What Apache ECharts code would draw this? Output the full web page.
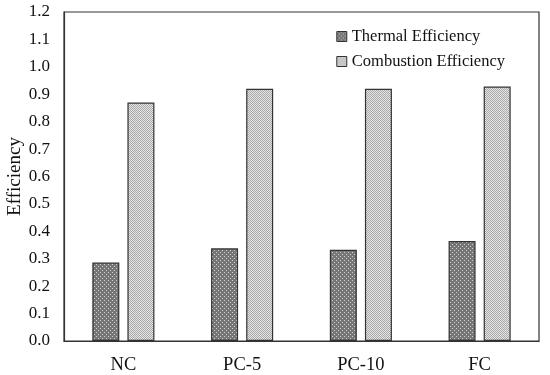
<!DOCTYPE html>
<html><head><meta charset="utf-8">
<script src="https://cdn.jsdelivr.net/npm/echarts@6/dist/echarts.min.js"></script>
<style>html,body{margin:0;padding:0;background:#fff}#c{width:550px;height:375px}</style>
</head><body><div id="c"></div>
<script>
const categories = ['NC', 'PC-5', 'PC-10', 'FC'];
const thermal = [0.286, 0.338, 0.333, 0.365];
const combustion = [0.87, 0.92, 0.92, 0.928];
const yTicks = ['0.0','0.1','0.2','0.3','0.4','0.5','0.6','0.7','0.8','0.9','1.0','1.1','1.2'];

function pattern(bg, fg, dark) {
  const c = document.createElement('canvas');
  c.width = 4; c.height = 4;
  const ctx = c.getContext('2d');
  ctx.fillStyle = bg; ctx.fillRect(0,0,4,4);
  ctx.fillStyle = fg;
  if (dark) {
    ctx.fillRect(0,0,1,1); ctx.fillRect(2,2,1,1);
  } else {
    ctx.fillRect(0,0,1,1); ctx.fillRect(2,0,1,1); ctx.fillRect(1,1,1,1); ctx.fillRect(3,1,1,1);
    ctx.fillRect(0,2,1,1); ctx.fillRect(2,2,1,1); ctx.fillRect(1,3,1,1); ctx.fillRect(3,3,1,1);
  }
  return c;
}
const pThermal = pattern('#767676', '#d0d0d0', true);
const pComb = pattern('#e6e6e6', '#a8a8a8', false);

const chart = echarts.init(document.getElementById('c'));
const font = 'Liberation Serif';
chart.setOption({
  animation: false,
  textStyle: { fontFamily: font },
  grid: { left: 64, right: 11, top: 12, bottom: 34, show: true, borderColor: '#333', borderWidth: 1.2,
    containLabel: false, outerBoundsMode: 'none' },
  legend: {
    right: 40, top: 23, orient: 'vertical', itemGap: 8,
    itemWidth: 10, itemHeight: 10,
    textStyle: { fontFamily: font, fontSize: 16.5, color: '#111' },
    data: [
      { name: 'Thermal Efficiency', icon: 'rect', itemStyle: { color: { image: pThermal, repeat: 'repeat' }, borderColor: '#333', borderWidth: 1 } },
      { name: 'Combustion Efficiency', icon: 'rect', itemStyle: { color: { image: pComb, repeat: 'repeat' }, borderColor: '#333', borderWidth: 1 } }
    ]
  },
  xAxis: {
    type: 'category', data: categories,
    axisLine: { show: true, lineStyle: { color: '#333', width: 1.2 } },
    axisTick: { show: false },
    axisLabel: { fontFamily: font, fontSize: 18.5, color: '#111', margin: 15 }
  },
  yAxis: {
    type: 'value', min: 0, max: 1.2, interval: 0.1,
    name: 'Efficiency', nameLocation: 'middle', nameGap: 39, nameMoveOverlap: false,
    nameTextStyle: { fontFamily: font, fontSize: 19, color: '#111' },
    axisLine: { show: true, lineStyle: { color: '#333', width: 1.2 } },
    axisTick: { show: false },
    splitLine: { show: false },
    axisLabel: { fontFamily: font, fontSize: 17, color: '#111', margin: 14,
      formatter: v => yTicks[Math.round(v * 10)] }
  },
  series: [
    { name: 'Thermal Efficiency', type: 'bar', data: thermal, barWidth: 27, barGap: '30%',
      itemStyle: { color: { image: pThermal, repeat: 'repeat' }, borderColor: '#333', borderWidth: 1.2 } },
    { name: 'Combustion Efficiency', type: 'bar', data: combustion, barWidth: 27,
      itemStyle: { color: { image: pComb, repeat: 'repeat' }, borderColor: '#333', borderWidth: 1.2 } }
  ]
});
</script></body></html>
